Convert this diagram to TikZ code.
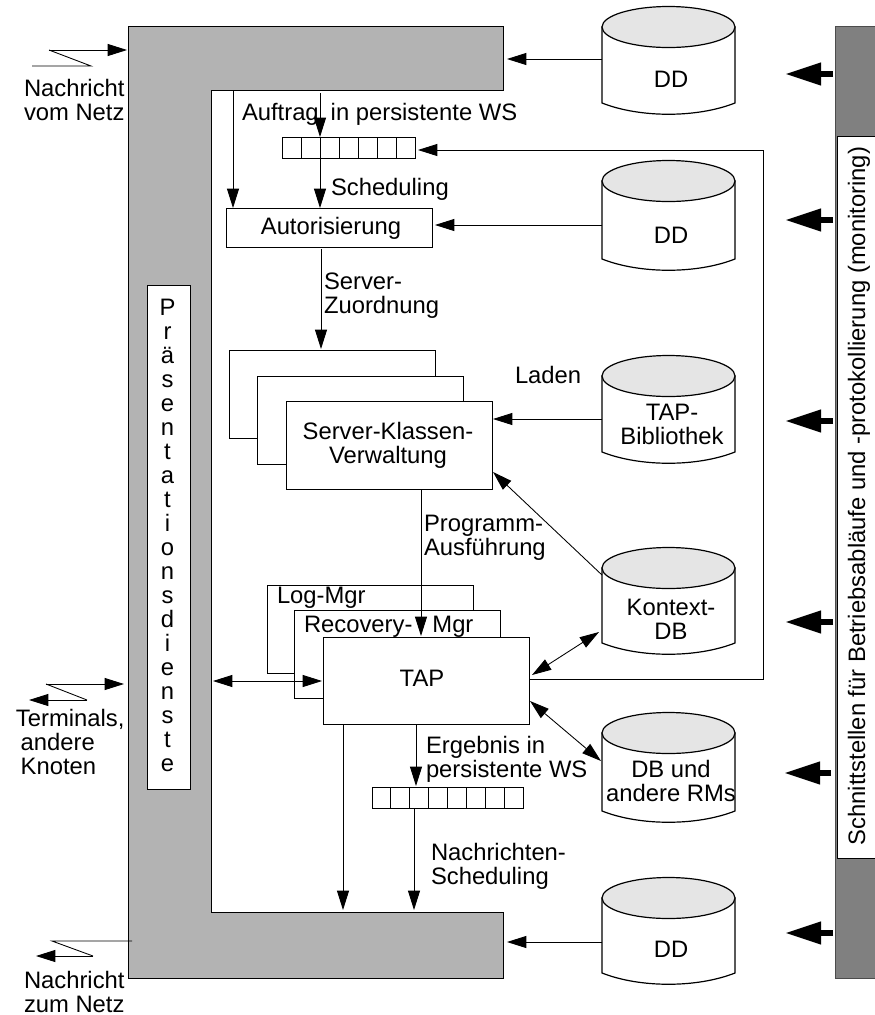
\documentclass[tikz,border=0pt]{standalone}
\usepackage{fontspec}
\setmainfont{Liberation Sans}
\usetikzlibrary{arrows.meta,calc}
\tikzset{
  x=0.75pt,y=-0.75pt,
  every node/.style={font=\fontsize{17.85}{18}\selectfont,inner sep=0pt,outer sep=0pt},
  wh/.style 2 args={minimum width=#1*0.75pt,minimum height=#2*0.75pt},
  box/.style={draw=black,fill=white,line width=0.65pt},
  ln/.style={line width=0.65pt,draw=black},
  arr/.style={ln,-{Triangle[length=14.5pt,width=9pt]}},
  darr/.style={ln,{Triangle[length=14.5pt,width=9pt]}-{Triangle[length=14.5pt,width=9pt]}},
  thick arr/.style={line width=4.5pt,draw=black,-{Triangle[length=27pt,width=16pt]}},
  lbl/.style={anchor=base west,align=left},
  ctr/.style={anchor=base,align=center},
}
\definecolor{panelgray}{HTML}{B3B3B3}
\definecolor{bargray}{HTML}{808080}
\definecolor{topgray}{HTML}{E5E5E5}
% name, top-ellipse centre y, end of sides y
\newcommand{\dbcyl}[3]{%
  \draw[line width=0.9pt,fill=white] (602,#2) -- (602,#3)
     .. controls (640,#3+15) and (697,#3+15) .. (735,#3) -- (735,#2) -- cycle;
  \draw[line width=0.9pt,fill=topgray] (668.5,#2) ellipse [x radius=66.5,y radius=20.5];
  \node[wh={133}{#3-#2}] (#1) at (668.5,{(#2+#3)/2}) {};
}
\begin{document}
\begin{tikzpicture}
\useasboundingbox (0,0) rectangle (875,1015);
% presentation panel
\draw[ln,fill=panelgray] (128,26) -- (503,26) -- (503,90) -- (211,90) -- (211,912) -- (503,912) -- (503,978) -- (128,978) -- cycle;
\coordinate (panelTopIn) at (127,50);
\coordinate (panelTopE) at (507,59);
\coordinate (panelBotE) at (507,942);
\coordinate (panelInL) at (213,681);
\coordinate (panelLeftIn) at (124,684);
\coordinate (panelOut) at (132,941);
\coordinate (panelA) at (233,91);
\coordinate (panelB) at (320,93);
\coordinate (panelC) at (343,910);
\coordinate (panelD) at (414,910);
\node[box,wh={43}{504}] (pres) at (168.5,537) {};
\foreach \c [count=\i from 0] in {P,r,ä,s,e,n,t,a,t,i,o,n,s,d,i,e,n,s,t,e}
  \node[anchor=base] (pl\i) at (167.5,315+24.05*\i) {\c};
% right bar
\fill[bargray,draw=black!70,line width=0.65pt] (835,26) rectangle (876,978);
\node[box,wh={40}{722},anchor=north west] (bar) at (837,136) {};
\node[rotate=90,anchor=base] (bartext) at (865,496) {Schnittstellen für Betriebsabläufe und -protokollierung (monitoring)};
% cylinders
\dbcyl{dd1}{27}{103}
\dbcyl{dd2}{181}{259}
\dbcyl{bib}{376}{452}
\dbcyl{ctx}{568}{643}
\dbcyl{rms}{733}{811}
\dbcyl{dd3}{898}{973}
\node[ctr] (t1) at (671,87) {DD};
\node[ctr] (t2) at (671,243) {DD};
\node[ctr] (t3) at (672,444) {TAP-\\Bibliothek};
\node[ctr] (t4) at (671,639) {Kontext-\\DB};
\node[ctr] (t5) at (671,801) {DB und\\andere RMs};
\node[ctr] (t6) at (671,957) {DD};
% queues
\node[box,wh={133}{21}] (q1) at (348.5,147.5) {};
\foreach \k in {1,...,6} \draw[ln] ($(q1.north west)+(19*\k,0)$) -- ($(q1.south west)+(19*\k,0)$);
\node[box,wh={151}{21}] (q2) at (447.5,797.5) {};
\foreach \k in {1,...,7} \draw[ln] ($(q2.north west)+(18.875*\k,0)$) -- ($(q2.south west)+(18.875*\k,0)$);
% main boxes
\node[box,wh={206}{39}] (auth) at (329,227.5) {};
\node[anchor=base] (autht) at (331,234) {Autorisierung};
\node[box,wh={206}{88}] (s1) at (332,394) {};
\node[box,wh={206}{88}] (s2) at (360,420) {};
\node[box,wh={206}{88}] (s3) at (389,445.5) {};
\node[ctr] (s3t) at (388,463) {Server-Klassen-\\Verwaltung};
\node[box,wh={206}{88}] (log) at (370,629) {};
\node[box,wh={206}{88}] (rec) at (397,654.5) {};
\node[box,wh={206}{87}] (tap) at (426,680.5) {};
\node[lbl] (logt) at (277,603) {Log-Mgr};
\node[lbl] (rect) at (304,632) {Recovery-\hspace{15pt}Mgr};
\node[anchor=base] (tapt) at (422,686) {TAP};
% labels
\node[lbl] (a1) at (24,120) {Nachricht\\vom Netz};
\node[lbl] (a2) at (242,120) {Auftrag\hspace{9pt}in persistente WS};
\node[lbl] (a3) at (331,195) {Scheduling};
\node[lbl] (a4) at (324,313) {Server-\\Zuordnung};
\node[lbl] (a5) at (515,383) {Laden};
\node[lbl] (a6) at (424,555) {Programm-\\Ausführung};
\node[lbl] (a7) at (426,777) {Ergebnis in\\persistente WS};
\node[lbl] (a8) at (431,884) {Nachrichten-\\Scheduling};
\node[lbl] (a9) at (16,774) {Terminals,\\\hspace*{3.5pt}andere\\\hspace*{3.5pt}Knoten};
\node[lbl] (a10) at (24,1012) {Nachricht\\zum Netz};
% connection points
\coordinate (z1a) at (32,66); \coordinate (z1b) at (91,66); \coordinate (z1c) at (49,50);
\coordinate (z2a) at (46,684); \coordinate (z2b) at (87,700); \coordinate (z2c) at (29,700);
\coordinate (z3a) at (52,941); \coordinate (z3b) at (93,956); \coordinate (z3c) at (36,956);
\draw[ln] (z1a) -- (z1b) -- (z1c);
\draw[arr] (z1c) -- (panelTopIn);
\draw[arr] (z2a) -- (panelLeftIn);
\draw[ln] (z2a) -- (z2b);
\draw[arr] (z2b) -- (z2c);
\draw[ln] (panelOut) -- (z3a) -- (z3b);
\draw[arr] (z3b) -- (z3c);
% connectors
\draw[arr] (dd1.west |- panelTopE) -- (panelTopE);
\draw[arr] (dd3.west |- panelBotE) -- (panelBotE);
\draw[arr] (panelA) -- (panelA |- auth.north);
\draw[arr] (panelB) -- (panelB |- q1.north);
\draw[arr] (panelB |- q1.south) -- (panelB |- auth.north);
\coordinate (fb1) at (763,679); \coordinate (fb2) at (763,150); \coordinate (q1in) at (418,150);
\draw[arr] (tap.east |- fb1) -- (fb1) -- (fb2) -- (q1in);
\coordinate (auin) at (435,225);
\draw[arr] (dd2.west |- auin) -- (auin);
\coordinate (autho) at (321,249); \coordinate (s1in) at (321,349);
\draw[arr] (autho) -- (s1in);
\coordinate (s3in) at (493,419);
\draw[arr] (bib.west |- s3in) -- (s3in);
\coordinate (ctxa) at (602,575); \coordinate (s3b) at (493,472);
\draw[arr] (ctxa) -- (s3b);
\coordinate (s3o) at (421,490); \coordinate (tapin) at (421,636);
\draw[arr] (s3o) -- (tapin);
\coordinate (tapL) at (322,681);
\draw[darr] (panelInL) -- (tapL);
\coordinate (ctxL) at (599,632); \coordinate (tapR1) at (532,675);
\draw[darr] (ctxL) -- (tapR1);
\coordinate (rmsL) at (601,761); \coordinate (tapR2) at (530,701);
\draw[darr] (rmsL) -- (tapR2);
\coordinate (q2in) at (416,786);
\draw[arr] (q2in |- tap.south) -- (q2in);
\draw[arr] (panelD |- q2.south) -- (panelD);
\draw[arr] (panelC |- tap.south) -- (panelC);
% thick arrows from the bar
\foreach \n/\yy in {m1/74,m2/220,m3/421,m4/622,m6/933}{
  \coordinate (\n) at (785,\yy);
  \coordinate (\n s) at (833,\yy);
  \draw[thick arr] (\n s) -- (\n);
}
\coordinate (m5) at (784,773);
\coordinate (m5s) at (831,773);
\draw[thick arr] (m5s) -- (m5);
\end{tikzpicture}
\end{document}
